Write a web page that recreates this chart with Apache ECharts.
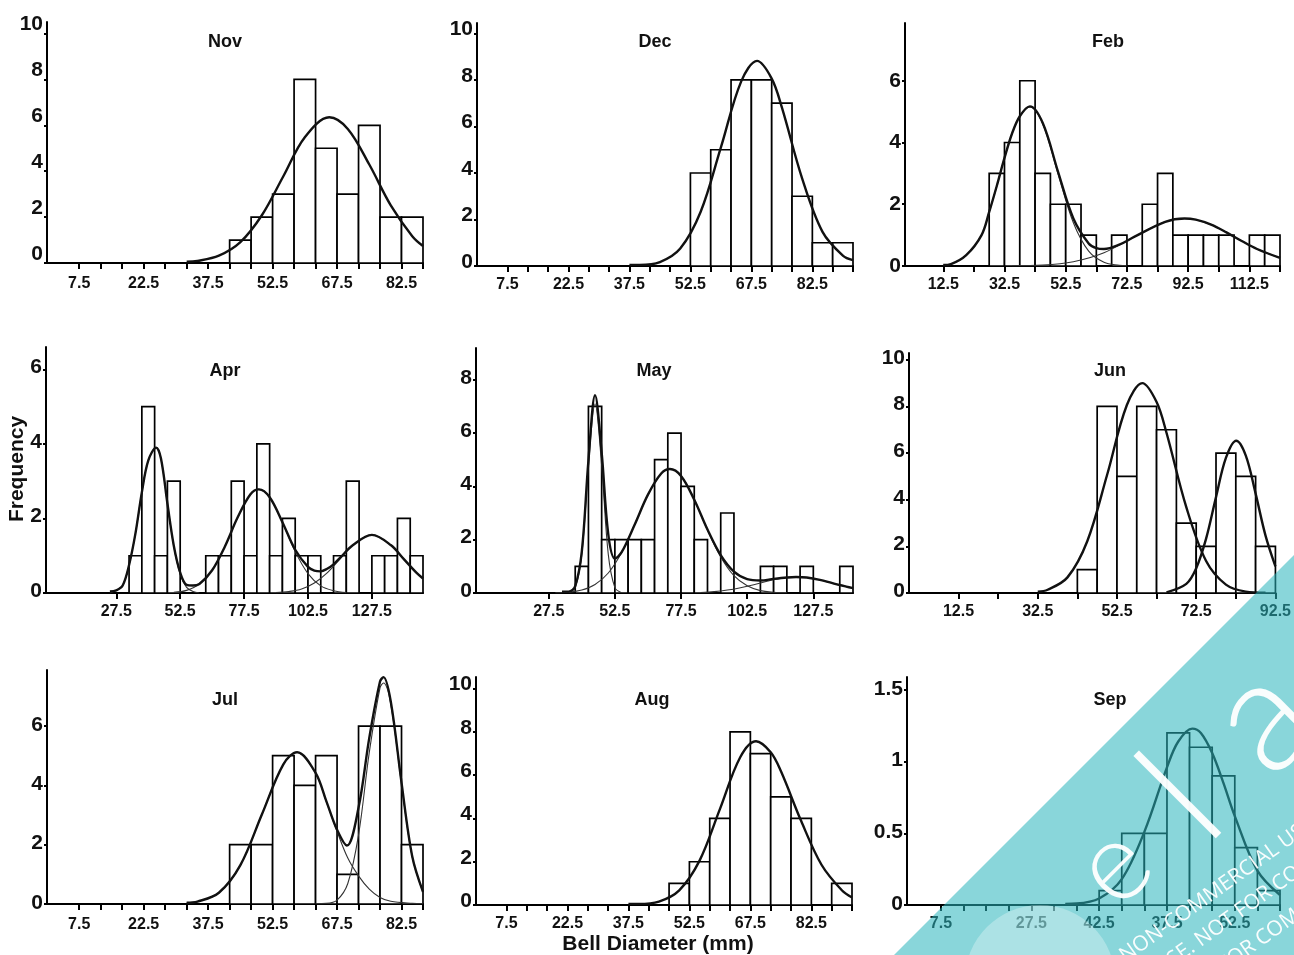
<!DOCTYPE html>
<html><head><meta charset="utf-8">
<script src="https://cdn.jsdelivr.net/npm/echarts@6/dist/echarts.min.js"></script>
<style>html,body{margin:0;padding:0;background:#fff}#c{width:1294px;height:955px}</style>
</head><body><div id="c"></div>
<script>
// ---- histogram bins (lower edge, mm) and counts ----
const novBins = [42.5,47.5,52.5,57.5,62.5,67.5,72.5,77.5,82.5];
const novCounts = [1,2,3,8,5,3,6,2,2];
const decBins = [52.5,57.5,62.5,67.5,72.5,77.5,82.5,87.5];
const decCounts = [4,5,8,8,7,3,1,1];
const febBins = [27.5,32.5,37.5,42.5,47.5,52.5,57.5,67.5,77.5,82.5,87.5,92.5,97.5,102.5,112.5,117.5];
const febCounts = [3,4,6,3,2,2,1,1,2,3,1,1,1,1,1,1];
const aprBins = [32.5,37.5,42.5,47.5,62.5,67.5,72.5,77.5,82.5,87.5,92.5,97.5,102.5,112.5,117.5,127.5,132.5,137.5,142.5];
const aprCounts = [1,5,1,3,1,1,3,1,4,1,2,1,1,1,3,1,1,2,1];
const mayBins = [37.5,42.5,47.5,52.5,57.5,62.5,67.5,72.5,77.5,82.5,92.5,107.5,112.5,122.5,137.5];
const mayCounts = [1,7,2,2,2,2,5,6,4,2,3,1,1,1,1];
const junBins = [42.5,47.5,52.5,57.5,62.5,67.5,72.5,77.5,82.5,87.5];
const junCounts = [1,8,5,8,7,3,2,6,5,2];
const julBins = [42.5,47.5,52.5,57.5,62.5,67.5,72.5,77.5,82.5];
const julCounts = [2,2,5,4,5,1,6,6,2];
const augBins = [47.5,52.5,57.5,62.5,67.5,72.5,77.5,87.5];
const augCounts = [1,2,4,8,7,5,4,1];
const sepBins = [42.5,47.5,52.5,57.5,62.5,67.5,72.5,77.5];
const sepCounts = [0.1,0.5,0.5,1.2,1.1,0.9,0.4,0.1];

// ---- fitted curves: [diameter, frequency] ----
const novFit = [[32.5,0.06],[35,0.09],[40,0.32],[45,0.91],[50,2.08],[55,3.78],[60,5.48],[65.7,6.35],[70,5.84],[75,4.29],[80,2.51],[85,1.17],[87.5,0.74]];
const decFit = [[37.5,0.05],[40,0.05],[45,0.17],[50,0.75],[55,2.32],[60,5.10],[65,7.94],[68.9,8.82],[72.5,8.06],[75,6.82],[80,3.76],[85,1.47],[90,0.45],[92.5,0.25]];
const febComp1 = [[12.5,0.03],[15,0.06],[20,0.35],[25,1.0],[27.5,1.75],[30,2.6],[32.5,3.5],[35,4.3],[37.5,4.85],[40.8,5.15],[45,4.6],[50,2.98],[55,1.4],[60,0.48],[65,0.12],[70,0.02],[72.5,0]];
const febComp2 = [[35,0.01],[45,0.03],[55,0.14],[65,0.43],[75,0.95],[85,1.43],[91.3,1.54],[95,1.5],[100,1.34],[105,1.09],[110,0.81],[115,0.55],[122.5,0.26]];
const febMix = [[12.5,0.03],[15,0.06],[20,0.35],[25,1.0],[27.5,1.75],[30,2.6],[32.5,3.5],[35,4.3],[37.5,4.85],[40.8,5.17],[45,4.63],[50,3.05],[55,1.54],[60,0.73],[62.5,0.58],[65,0.55],[70,0.69],[75,0.95],[85,1.43],[91.3,1.54],[95,1.5],[100,1.34],[105,1.09],[110,0.81],[115,0.55],[122.5,0.26]];
const aprComp1 = [[25,0],[27.5,0.07],[30,0.2],[32.5,0.75],[35,1.6],[37.5,2.7],[40,3.55],[43.1,3.9],[45,3.6],[47.5,2.4],[50,1.25],[52.5,0.5],[55,0.15],[57.5,0.04],[60,0]];
const aprComp2 = [[50,0.02],[55,0.07],[60,0.24],[65,0.61],[70,1.25],[75,2.03],[80,2.65],[83.3,2.78],[87.5,2.57],[92.5,1.89],[97.5,1.11],[102.5,0.52],[107.5,0.19],[112.5,0.06],[117.5,0.01]];
const aprComp3 = [[90,0.01],[95,0.04],[100,0.11],[105,0.27],[110,0.54],[115,0.91],[120,1.28],[127.5,1.56],[135,1.28],[140,0.91],[145,0.54],[147.5,0.39]];
const aprMix = [[25,0.04],[27.5,0.07],[30,0.2],[32.5,0.75],[35,1.6],[37.5,2.7],[40,3.55],[43.1,3.9],[45,3.6],[47.5,2.4],[50,1.27],[52.5,0.55],[55,0.22],[57.5,0.2],[60,0.24],[65,0.61],[70,1.25],[75,2.03],[80,2.65],[83.3,2.78],[87.5,2.57],[92.5,1.9],[97.5,1.16],[102.5,0.7],[105,0.6],[107.5,0.58],[110,0.65],[112.5,0.77],[115,0.94],[120,1.28],[127.5,1.56],[135,1.28],[140,0.91],[145,0.54],[147.5,0.39]];
const mayComp1 = [[35,0.01],[37.5,0.2],[40,1.45],[42.5,4.77],[45,7.1],[47.5,4.77],[50,1.45],[52.5,0.2],[55,0.01]];
const mayComp2 = [[30,0.01],[35,0.03],[40,0.11],[45,0.32],[50,0.75],[55,1.51],[60,2.57],[65,3.69],[70,4.48],[73.3,4.65],[77.5,4.39],[82.5,3.5],[87.5,2.36],[92.5,1.35],[97.5,0.65],[102.5,0.27],[107.5,0.09],[112.5,0.03],[117.5,0.01]];
const mayComp3 = [[85,0.02],[90,0.05],[95,0.11],[100,0.2],[105,0.31],[110,0.44],[115,0.55],[121,0.6],[125,0.58],[130,0.49],[135,0.36],[140,0.24],[142.5,0.18]];
const mayMix = [[32.5,0.05],[35,0.05],[37.5,0.26],[40,1.56],[42.5,4.97],[45,7.42],[47.5,5.27],[50,2.2],[52.5,1.29],[55,1.52],[60,2.57],[65,3.69],[70,4.48],[73.3,4.65],[77.5,4.39],[82.5,3.5],[87.5,2.38],[92.5,1.42],[97.5,0.8],[102.5,0.52],[107.5,0.47],[112.5,0.53],[117.5,0.58],[121,0.6],[125,0.58],[130,0.49],[135,0.36],[140,0.24],[142.5,0.18]];
const junComp1 = [[32.5,0.06],[35,0.14],[40,0.67],[45,2.22],[50,5.06],[55,8.06],[58.9,9.0],[62.5,8.19],[65,6.87],[70,3.68],[75,1.37],[80,0.36],[85,0.06],[90,0.01]];
const junComp2 = [[65,0.03],[70,0.39],[72.5,1.06],[75,2.33],[77.5,4.11],[80,5.79],[82.6,6.53],[85,5.9],[87.5,4.26],[90,2.46],[92.5,1.14]];
const julComp1 = [[32.5,0.04],[35,0.08],[40,0.38],[45,1.31],[50,3.02],[55,4.71],[58.2,5.1],[62.5,4.41],[65,3.45],[67.5,2.45],[70,1.55],[72.5,0.95],[75,0.5],[77.5,0.22],[80,0.09],[85,0.02],[87.5,0.01]];
const julComp2 = [[62.5,0.01],[65,0.02],[67.5,0.13],[70,0.69],[72.5,2.33],[75,5.11],[77.5,7.29],[78.3,7.45],[80,6.74],[82.5,4.05],[85,1.58],[87.5,0.4]];
const julMix = [[32.5,0.04],[35,0.08],[40,0.38],[45,1.31],[50,3.02],[55,4.71],[58.2,5.12],[62.5,4.42],[65,3.47],[67.5,2.5],[69.8,1.97],[72.5,3.25],[75,5.6],[77.5,7.5],[78.3,7.65],[80,6.83],[82.5,4.09],[85,1.6],[87.5,0.41]];
const augFit = [[37.5,0.05],[40,0.05],[45,0.16],[50,0.68],[55,2.05],[60,4.43],[65,6.83],[68.9,7.57],[72.5,7.06],[75,6.19],[80,3.88],[85,1.86],[90,0.68],[92.5,0.35]];
const sepFit = [[35,0.008],[37.5,0.01],[42.5,0.045],[47.5,0.18],[52.5,0.51],[57.5,0.96],[60,1.14],[63.1,1.23],[65,1.2],[67.5,1.06],[70,0.85],[72.5,0.62],[77.5,0.24],[82.5,0.07]];

// ---- tick labels ----
const xLabelsA = [7.5,22.5,37.5,52.5,67.5,82.5];
const xLabelsFeb = [12.5,32.5,52.5,72.5,92.5,112.5];
const xLabelsAprMay = [27.5,52.5,77.5,102.5,127.5];
const xLabelsJun = [12.5,32.5,52.5,72.5,92.5];
const xLabelsSep = [7.5,27.5,42.5,57.5,72.5];
const xLabelTextSep = ['7.5','27.5','42.5','37.5','52.5'];
const yLabels10 = [0,2,4,6,8,10];
const yLabels8 = [0,2,4,6,8];
const yLabels6 = [0,2,4,6];
const yLabelsSep = [0,0.5,1,1.5];
const monthNames = ['Nov','Dec','Feb','Apr','May','Jun','Jul','Aug','Sep'];

function steps(a, b, s){ const r=[]; for(let v=a; v<=b+1e-9; v+=s) r.push(v); return r; }

const BIN = 5;
const FONT = '"Liberation Sans", Arial, Helvetica, sans-serif';

const panels = [
  {grid:[47,22,376,241], xMax:87.5, yMax:10.5, xl:xLabelsA, xt:steps(7.5,87.5,5), yl:yLabels10, bins:novBins, counts:novCounts, thick:[novFit], thin:[], title:[225,42], lift:18, xm:13},
  {grid:[477,23,376,243], xMax:92.5, yMax:10.45, xl:xLabelsA, xt:steps(7.5,92.5,5), yl:yLabels10, bins:decBins, counts:decCounts, thick:[decFit], thin:[], title:[655,42], lift:8, xm:11},
  {grid:[905,23,375,243], xMax:122.5, yMax:7.87, xl:xLabelsFeb, xt:steps(12.5,122.5,10), yl:yLabels6, bins:febBins, counts:febCounts, thick:[febMix], thin:[febComp1,febComp2], title:[1108,42], lift:0, xm:11},
  {grid:[46,347,377,246], xMax:147.5, yMax:6.6, xl:xLabelsAprMay, xt:xLabelsAprMay, yl:yLabels6, bins:aprBins, counts:aprCounts, thick:[aprMix], thin:[aprComp1,aprComp2,aprComp3], title:[225,371], lift:4, xm:11},
  {grid:[476,348,377,245], xMax:142.5, yMax:9.19, xl:xLabelsAprMay, xt:xLabelsAprMay, yl:yLabels8, bins:mayBins, counts:mayCounts, thick:[mayMix], thin:[mayComp1,mayComp2,mayComp3], title:[654,371], lift:4, xm:11},
  {grid:[909,353,373,240], xMax:92.5, yMax:10.29, xl:xLabelsJun, xt:steps(12.5,92.5,10), yl:yLabels10, bins:junBins, counts:junCounts, thick:[junComp1,junComp2], thin:[], title:[1110,371], lift:4, xm:11},
  {grid:[47,670,376,234], xMax:87.5, yMax:7.89, xl:xLabelsA, xt:steps(7.5,87.5,5), yl:yLabels6, bins:julBins, counts:julCounts, thick:[julMix], thin:[julComp1,julComp2], title:[225,700], lift:2, xm:13},
  {grid:[476,677,376,228], xMax:92.5, yMax:10.54, xl:xLabelsA, xt:steps(7.5,92.5,5), yl:yLabels10, bins:augBins, counts:augCounts, thick:[augFit], thin:[], title:[652,700], lift:8, xm:11},
  {grid:[907,677,373,228], xMax:82.5, yMax:1.59, xl:xLabelsSep, xt:steps(7.5,82.5,5), yl:yLabelsSep, bins:sepBins, counts:sepCounts, thick:[sepFit], thin:[], title:[1110,700], xText:xLabelTextSep, lift:2, xm:11}
];

const option = {animation:false, backgroundColor:'#fff', grid:[], xAxis:[], yAxis:[], series:[], graphic:[]};

panels.forEach((p,i)=>{
  option.grid.push({left:p.grid[0], top:p.grid[1], width:p.grid[2], height:p.grid[3], containLabel:false});
  option.xAxis.push({
    type:'value', gridIndex:i, min:0, max:p.xMax,
    axisLine:{show:true, onZero:false, lineStyle:{color:'#000', width:2}},
    axisTick:{show:true, customValues:p.xt, length:6, lineStyle:{color:'#000', width:2}},
    axisLabel:{show:true, customValues:p.xl, margin:p.xm, color:'#111', fontWeight:'bold', fontSize:16, fontFamily:FONT,
      formatter: p.xText ? (v)=>{ const k=p.xl.findIndex(u=>Math.abs(u-v)<1e-6); return k>=0?p.xText[k]:''; } : (v)=>String(v)},
    splitLine:{show:false}
  });
  option.yAxis.push({
    type:'value', gridIndex:i, min:0, max:p.yMax,
    axisLine:{show:true, onZero:false, lineStyle:{color:'#000', width:2}},
    axisTick:{show:true, customValues:p.yl, length:3, lineStyle:{color:'#000', width:2}},
    axisLabel:{show:true, customValues:p.yl, margin:4, color:'#111', fontWeight:'bold', fontSize:21, fontFamily:FONT,
      verticalAlign:'middle', formatter:(v)=>'{t|'+v+'}',
      rich:{t:{color:'#111', fontWeight:'bold', fontSize:21, fontFamily:FONT, padding:[0,0,p.lift,0]}}},
    splitLine:{show:false}
  });
  const data = p.bins.map((b,j)=>[b, b+BIN, p.counts[j]]).filter(d=>d[2]>0);
  option.series.push({
    type:'custom', xAxisIndex:i, yAxisIndex:i, data:data, encode:{x:[0,1], y:2}, z:2,
    renderItem:(params, api)=>{
      const a = api.coord([api.value(0), api.value(2)]);
      const b = api.coord([api.value(1), 0]);
      return {type:'rect', shape:{x:a[0], y:a[1], width:b[0]-a[0], height:b[1]-a[1]},
        style:{fill:'#fff', stroke:'#000', lineWidth:1.7}};
    }
  });
  p.thin.forEach(c=>option.series.push({type:'line', xAxisIndex:i, yAxisIndex:i, data:c, smooth:0.35, showSymbol:false, symbol:'none', z:3, lineStyle:{color:'#333', width:1.1}}));
  p.thick.forEach(c=>option.series.push({type:'line', xAxisIndex:i, yAxisIndex:i, data:c, smooth:0.35, showSymbol:false, symbol:'none', z:4, lineStyle:{color:'#111', width:2.4}}));
  option.graphic.push({type:'text', x:p.title[0], y:p.title[1], z:10,
    style:{text:monthNames[i], fill:'#111', font:'bold 18px '+FONT, align:'center', verticalAlign:'middle', textAlign:'center', textVerticalAlign:'middle'}});
});

// axis titles
option.graphic.push({type:'text', x:17, y:469, rotation:Math.PI/2, z:10,
  style:{text:'Frequency', fill:'#111', font:'bold 21px '+FONT, align:'center', verticalAlign:'middle', textAlign:'center', textVerticalAlign:'middle'}});
option.graphic.push({type:'text', x:658, y:944, z:10,
  style:{text:'Bell Diameter (mm)', fill:'#111', font:'bold 21px '+FONT, align:'center', verticalAlign:'middle', textAlign:'center', textVerticalAlign:'middle'}});

// watermark overlay (bottom-right corner)
const WM = 'rgba(255,255,255,0.95)';
option.graphic.push({type:'polygon', z:100, silent:true, shape:{points:[[894,955],[1294,555],[1294,955]]}, style:{fill:'rgba(40,180,188,0.55)'}});
option.graphic.push({type:'circle', z:101, silent:true, shape:{cx:1040, cy:980, r:75}, style:{fill:'rgba(255,255,255,0.3)'}});
const wmLetters = [['e',1113,866,112],['l',1182,799,160],['a',1262,718,160]];
wmLetters.forEach(l=>option.graphic.push({type:'text', z:102, silent:true, x:l[1], y:l[2], rotation:Math.PI/4,
  style:{text:l[0], fill:WM, font:'300 '+l[3]+'px Lato, "Open Sans", sans-serif', align:'center', verticalAlign:'middle', textAlign:'center', textVerticalAlign:'middle'}}));
const wmLines = ['NON-COMMERCIAL USE', 'USE. NOT FOR COMMERCIAL', 'FOR COMMERCIAL USE'];
const wmPos = [[1122,958],[1157,971],[1221,968]];
wmLines.forEach((t,k)=>option.graphic.push({type:'text', z:102, silent:true, x:wmPos[k][0], y:wmPos[k][1], rotation:0.62,
  style:{text:t, fill:WM, font:'21px "Open Sans", sans-serif', align:'left', verticalAlign:'middle', textAlign:'left', textVerticalAlign:'middle'}}));

const chart = echarts.init(document.getElementById('c'), null, {renderer:'canvas', width:1294, height:955});
chart.setOption(option);
</script>
</body></html>
